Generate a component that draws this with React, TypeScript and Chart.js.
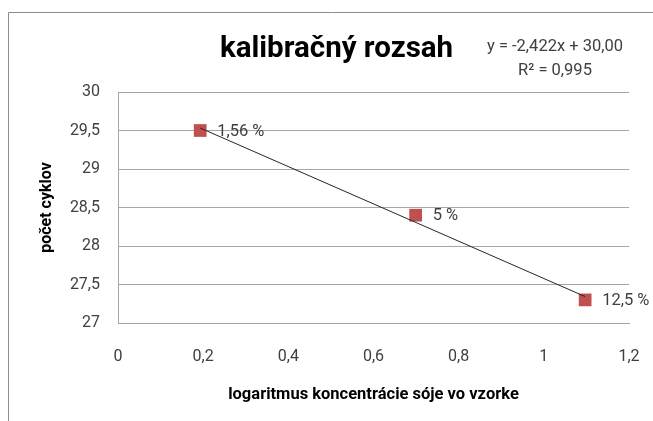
import React, { useEffect, useRef } from "react";
import { Chart, registerables } from "chart.js";

Chart.register(...registerables);

const titleText = "kalibračný rozsah";
const xAxisTitle = "logaritmus koncentrácie sóje vo vzorke";
const yAxisTitle = "počet cyklov";
const pointLabels = ["1,56 %", "5 %", "12,5 %"];
const logConcentration = [0.193, 0.699, 1.097];
const cycleCounts = [29.5, 28.4, 27.3];
const trendSlope = -2.422;
const trendIntercept = 30.0;
const equationLines = ["y = -2,422x + 30,00", "R² = 0,995"];
const xRange = [0, 1.2, 0.2];
const yRange = [27, 30, 0.5];

const FONT = "Roboto, 'Liberation Sans', sans-serif";
const TEXT = "#404040";

const fmt = (v: number) => String(Math.round(v * 10) / 10).replace(".", ",");

const decorPlugin = {
  id: "decor",
  beforeDraw(chart: any) {
    const ctx = chart.ctx;
    ctx.save();
    ctx.fillStyle = "#ffffff";
    ctx.fillRect(0, 0, chart.width, chart.height);
    ctx.strokeStyle = "#8c8c8c";
    ctx.lineWidth = 1;
    ctx.beginPath();
    ctx.moveTo(8.5, chart.height + 2);
    ctx.lineTo(8.5, 12.5);
    ctx.lineTo(chart.width + 2, 12.5);
    ctx.stroke();
    ctx.restore();
  },
  afterDraw(chart: any) {
    const ctx = chart.ctx;
    ctx.save();
    ctx.fillStyle = TEXT;
    ctx.textBaseline = "middle";
    ctx.textAlign = "center";
    ctx.font = `16.5px ${FONT}`;
    ctx.fillText(equationLines[0], 555, 47);
    ctx.fillText(equationLines[1], 555, 71);
    const meta = chart.getDatasetMeta(1);
    ctx.textAlign = "left";
    ctx.font = `16.5px ${FONT}`;
    meta.data.forEach((el: any, i: number) => {
      ctx.fillText(pointLabels[i], el.x + 17, el.y + 1);
    });
    ctx.restore();
  },
};

export default function App() {
  const ref = useRef<HTMLCanvasElement | null>(null);
  useEffect(() => {
    if (!ref.current) return;
    const x0 = logConcentration[0];
    const x1 = logConcentration[logConcentration.length - 1];
    const chart = new Chart(ref.current, {
      type: "scatter",
      data: {
        datasets: [
          {
            type: "line",
            label: "trend",
            data: [
              { x: x0, y: trendIntercept + trendSlope * x0 },
              { x: x1, y: trendIntercept + trendSlope * x1 },
            ],
            borderColor: "#262626",
            borderWidth: 1,
            pointRadius: 0,
            fill: false,
            order: 0,
          } as any,
          {
            label: "data",
            data: logConcentration.map((x, i) => ({ x, y: cycleCounts[i] })),
            backgroundColor: "#C0504D",
            borderColor: "#C0504D",
            pointStyle: "rect",
            pointRadius: 9,
            borderWidth: 0,
            order: 1,
          },
        ],
      },
      options: {
        animation: false,
        responsive: false,
        layout: { padding: { left: 44, right: 24, top: 0, bottom: 0 } },
        plugins: {
          legend: { display: false },
          tooltip: { enabled: false },
          title: {
            display: true,
            text: titleText,
            color: "#000000",
            font: { family: FONT, size: 29.5, weight: "bold", lineHeight: 1.2 },
            padding: { top: 31.6, bottom: 25 },
          },
        },
        scales: {
          x: {
            type: "linear",
            min: xRange[0],
            max: xRange[1],
            afterFit(scale: any) {
              scale.height = 98;
              scale.paddingLeft = 0;
              scale.paddingRight = 0;
            },
            ticks: {
              stepSize: xRange[2],
              color: TEXT,
              padding: 24,
              font: { family: FONT, size: 16 },
              callback: (v: any) => fmt(Number(v)),
            },
            grid: { display: false, drawTicks: false },
            border: { display: true, color: "#a6a6a6", width: 1 },
            title: {
              display: true,
              text: xAxisTitle,
              color: "#000000",
              font: { family: FONT, size: 16.5, weight: "bold", lineHeight: 1.2 },
              padding: { top: 0, bottom: 16 },
            },
          },
          y: {
            type: "linear",
            min: yRange[0],
            max: yRange[1],
            afterFit(scale: any) {
              scale.width = 74;
            },
            ticks: {
              stepSize: yRange[2],
              color: TEXT,
              padding: 18,
              font: { family: FONT, size: 16 },
              callback: (v: any) => fmt(Number(v)),
            },
            grid: { color: "#a6a6a6", lineWidth: 1, drawTicks: false },
            border: { display: true, color: "#a6a6a6", width: 1 },
            title: {
              display: true,
              text: yAxisTitle,
              color: "#000000",
              font: { family: FONT, size: 16, weight: "bold", lineHeight: 1.2 },
              padding: { top: -6.6, bottom: 0 },
            },
          },
        },
      },
      plugins: [decorPlugin],
    });
    return () => chart.destroy();
  }, []);
  return (
    <div style={{ position: "fixed", left: 0, top: 0, width: 653, height: 421, background: "#fff" }}>
      <canvas ref={ref} width={653} height={421} style={{ display: "block", width: 653, height: 421 }} />
    </div>
  );
}
